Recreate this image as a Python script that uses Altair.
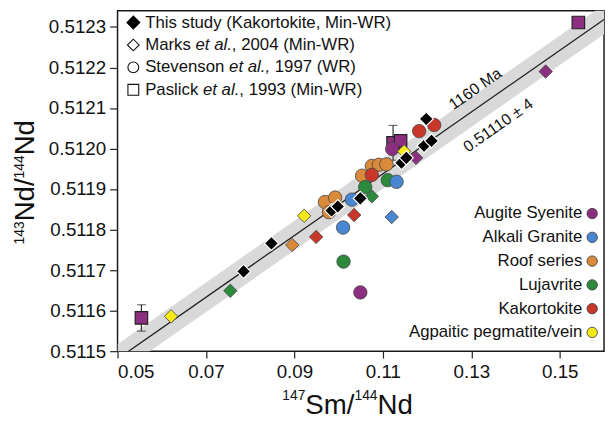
import altair as alt
import pandas as pd

FONT = "Liberation Sans"

rock_types = ["Augite Syenite", "Alkali Granite", "Roof series", "Lujavrite",
              "Kakortokite", "Agpaitic pegmatite/vein"]
rock_colors = ["#8c2f80", "#4a87d2", "#d98a3a", "#2c8a3c", "#c8372a", "#f5ea18"]

# This study (Kakortokite, Min-WR) - black diamonds
study_sm = [0.0785, 0.0848, 0.0984, 0.0998, 0.1049, 0.1142, 0.1153, 0.1193, 0.1210, 0.1198]
study_nd = [0.511697, 0.511766, 0.511847, 0.511857, 0.511877, 0.511965, 0.511977,
            0.512007, 0.512019, 0.512073]

# Marks et al., 2004 (Min-WR) - coloured diamonds
marks_sm = [0.0621, 0.0755, 0.0895, 0.0949, 0.0922, 0.1035, 0.1120, 0.1075, 0.1148, 0.1175, 0.1468]
marks_nd = [0.511586, 0.511649, 0.511762, 0.511782, 0.511834, 0.511836, 0.511831,
            0.511882, 0.511993, 0.511977, 0.512190]
marks_rock = ["Agpaitic pegmatite/vein", "Lujavrite", "Roof series", "Kakortokite",
              "Agpaitic pegmatite/vein", "Kakortokite", "Alkali Granite", "Lujavrite",
              "Agpaitic pegmatite/vein", "Augite Syenite", "Augite Syenite"]

# Stevenson et al., 1997 (WR) - circles
stev_sm = [0.0969, 0.0992, 0.0978, 0.1053, 0.1075, 0.1091, 0.1108, 0.1075, 0.1182, 0.1216,
           0.1060, 0.1111, 0.1011, 0.1030, 0.1010, 0.1131, 0.1121, 0.1049]
stev_nd = [0.511868, 0.511879, 0.511843, 0.511933, 0.511957, 0.511960, 0.511961, 0.511935,
           0.512043, 0.512058, 0.511905, 0.511922, 0.511721, 0.511874, 0.511805,
           0.511918, 0.511999, 0.511645]
stev_rock = ["Roof series"] * 7 + ["Kakortokite"] * 3 + ["Lujavrite"] * 3 + \
            ["Alkali Granite"] * 3 + ["Augite Syenite"] * 2

# Paslick et al., 1993 (Min-WR) - squares
pas_sm = [0.0554, 0.1123, 0.1140, 0.1542]
pas_nd = [0.511582, 0.512014, 0.512019, 0.512311]
pas_rock = ["Augite Syenite"] * 4
pas_err = [0.0000325, 0.000043, 0.0, 0.0]

# isochron
iso_t0 = 0.51110
iso_slope = 0.0076153
band_half = 0.0000365
iso_label = "1160 Ma"
int_label = "0.51110 ± 4"

x_ticks = [0.05, 0.07, 0.09, 0.11, 0.13, 0.15]
y_ticks = [0.5115, 0.5116, 0.5117, 0.5118, 0.5119, 0.5120, 0.5121, 0.5122, 0.5123]

W, H = 493, 345

xs = alt.Scale(domain=[0.05, 0.16], nice=False, zero=False)
ys = alt.Scale(domain=[0.5115, 0.51234], nice=False, zero=False)
x_axis = alt.Axis(values=x_ticks, format=".2f", title=None, grid=False, domain=False,
                  labelFontSize=19, tickSize=7, labelPadding=5, labelFont=FONT,
                  labelColor="#111", tickColor="#222", tickWidth=1.2)
y_axis = alt.Axis(values=y_ticks, format=".4f", title=None, grid=False, domain=False,
                  labelFontSize=19, tickSize=8, labelPadding=4, labelFont=FONT,
                  labelColor="#111", tickColor="#222", tickWidth=1.2)


def X(f="sm"):
    return alt.X(f, type="quantitative", scale=xs, axis=x_axis)


def Y(f="nd"):
    return alt.Y(f, type="quantitative", scale=ys, axis=y_axis)


fill_enc = alt.Fill("rock:N", scale=alt.Scale(domain=rock_types, range=rock_colors), legend=None)

# isochron line and band
iso_x = [0.05, 0.16]
iso_df = pd.DataFrame({"sm": iso_x,
                       "nd": [iso_t0 + iso_slope * v for v in iso_x],
                       "lo": [iso_t0 + iso_slope * v - band_half for v in iso_x],
                       "hi": [iso_t0 + iso_slope * v + band_half for v in iso_x]})
band = alt.Chart(iso_df).mark_area(color="#d9d9d9", clip=True).encode(
    x=X(), y=Y("lo"), y2="hi")
line = alt.Chart(iso_df).mark_line(color="#222", strokeWidth=1.3, clip=True).encode(x=X(), y=Y())

pas_df = pd.DataFrame({"sm": pas_sm, "nd": pas_nd, "rock": pas_rock, "err": pas_err})
pas_df["lo"] = pas_df["nd"] - pas_df["err"]
pas_df["hi"] = pas_df["nd"] + pas_df["err"]
err_df = pas_df[pas_df["err"] > 0]
err_rule = alt.Chart(err_df).mark_rule(color="#333", strokeWidth=1.2).encode(x=X(), y=Y("lo"), y2="hi")
cap_lo = alt.Chart(err_df).mark_tick(color="#333", orient="horizontal", size=9, thickness=1.2).encode(x=X(), y=Y("lo"))
cap_hi = alt.Chart(err_df).mark_tick(color="#333", orient="horizontal", size=9, thickness=1.2).encode(x=X(), y=Y("hi"))

squares = alt.Chart(pas_df).mark_point(shape="square", filled=True, size=160, opacity=1,
                                       stroke="#222", strokeWidth=1.2).encode(
    x=X(), y=Y(), fill=fill_enc)

stev_df = pd.DataFrame({"sm": stev_sm, "nd": stev_nd, "rock": stev_rock})
circles = alt.Chart(stev_df).mark_point(shape="circle", filled=True, size=185, opacity=1,
                                        stroke="#444", strokeWidth=0.8).encode(
    x=X(), y=Y(), fill=fill_enc)

marks_df = pd.DataFrame({"sm": marks_sm, "nd": marks_nd, "rock": marks_rock})
mdiam = alt.Chart(marks_df).mark_point(shape="diamond", filled=True, size=185, opacity=1,
                                       stroke="#444", strokeWidth=0.8).encode(
    x=X(), y=Y(), fill=fill_enc)

study_df = pd.DataFrame({"sm": study_sm, "nd": study_nd})
sdiam = alt.Chart(study_df).mark_point(shape="diamond", filled=True, size=200, opacity=1,
                                       fill="black", stroke="white", strokeWidth=1.2).encode(
    x=X(), y=Y())

ann_df = pd.DataFrame({"sm": [0.1309, 0.1361], "nd": [0.512147, 0.512057],
                       "label": [iso_label, int_label]})
ann = alt.Chart(ann_df).mark_text(font=FONT, fontSize=16, angle=325, align="center",
                                  baseline="middle", color="#111").encode(
    x=X(), y=Y(), text="label:N")

layers = [band, line, err_rule, cap_lo, cap_hi, squares, circles, mdiam, sdiam, ann]

one = alt.Data(values=[{"a": 1}])

# Arial / Liberation Sans advance widths (per 1000 em)
WID = {" ": 278, "(": 333, ")": 333, ",": 278, "-": 333, ".": 278, "/": 278, "±": 584,
       "A": 667, "K": 667, "M": 833, "N": 722, "P": 667, "R": 722, "S": 667, "T": 611,
       "W": 944, "a": 556, "c": 500, "d": 556, "e": 556, "h": 556, "i": 222, "k": 500,
       "l": 222, "m": 833, "n": 556, "o": 556, "r": 333, "s": 500, "t": 278, "u": 556,
       "v": 500, "y": 500}


def tw(s, size):
    return sum(WID.get(ch, 556) for ch in s) * size / 1000.0


def text_piece(txt, x, y, size, style="normal", align="left", angle=0, baseline="middle"):
    return alt.Chart(one).mark_text(text=txt, font=FONT, fontSize=size, fontStyle=style,
                                    align=align, baseline=baseline, angle=angle,
                                    color="#111").encode(x=alt.value(x), y=alt.value(y))


# top-left legend
src_rows = [
    [("This study (Kakortokite, Min-WR)", "normal")],
    [("Marks ", "normal"), ("et al.", "italic"), (", 2004 (Min-WR)", "normal")],
    [("Stevenson ", "normal"), ("et al.,", "italic"), (" 1997 (WR)", "normal")],
    [("Paslick ", "normal"), ("et al.", "italic"), (", 1993 (Min-WR)", "normal")],
]
src_shapes = [("diamond", True), ("diamond", False), ("circle", False), ("square", False)]
LFS = 17
for i, (row, (shp, filled)) in enumerate(zip(src_rows, src_shapes)):
    yy = 12 + 22.7 * i
    if filled:
        sym = alt.Chart(one).mark_point(shape=shp, filled=True, fill="black", stroke="black",
                                        size=140, opacity=1)
    else:
        sym = alt.Chart(one).mark_point(shape=shp, filled=False, stroke="#111",
                                        strokeWidth=1.1, size=120 if shp != "diamond" else 140,
                                        opacity=1)
    layers.append(sym.encode(x=alt.value(16), y=alt.value(yy)))
    cx = 28.0
    for txt, style in row:
        lead = len(txt) - len(txt.lstrip(" "))
        body = txt.strip(" ")
        layers.append(text_piece(body, cx + tw(" " * lead, LFS), yy, LFS, style))
        cx += tw(txt, LFS)

# right legend (rock types)
for i, (rt, col) in enumerate(zip(rock_types, rock_colors)):
    yy = 205.5 + 24.1 * i
    layers.append(text_piece(rt, 471, yy, LFS, align="right"))
    layers.append(alt.Chart(one).mark_point(shape="circle", filled=True, fill=col, stroke="#333",
                                            strokeWidth=0.8, size=110, opacity=1)
                  .encode(x=alt.value(481), y=alt.value(yy)))

# axis titles with superscripts
BIG, SUP = 28, 14
xt = [("147", SUP), ("Sm/", BIG), ("144", SUP), ("Nd", BIG)]
cx = 167.0
for txt, sz in xt:
    layers.append(text_piece(txt, cx, 394 if sz == SUP else 409, sz, baseline="alphabetic"))
    cx += tw(txt, sz)

yt = [("143", SUP), ("Nd/", BIG), ("144", SUP), ("Nd", BIG)]
cy = 236.8
for txt, sz in yt:
    layers.append(text_piece(txt, -95 if sz == SUP else -85, cy, sz, angle=270,
                             baseline="alphabetic"))
    cy -= tw(txt, sz)

chart = alt.layer(*layers).properties(
    width=W, height=H,
    autosize=alt.AutoSizeParams(type="none"),
    padding={"left": 111, "top": 0, "right": 2, "bottom": 70},
).configure_view(stroke="#1a1a1a", strokeWidth=1.5)

chart.save("out.html", embed_options={"renderer": "svg", "actions": False})
